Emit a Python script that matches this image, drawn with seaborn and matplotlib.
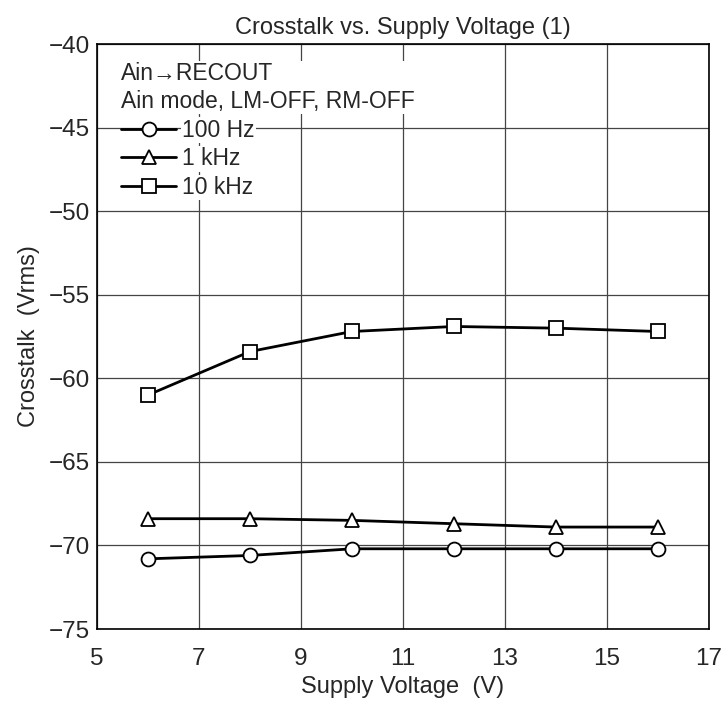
import matplotlib
matplotlib.use('Agg')
import matplotlib.pyplot as plt
import pandas as pd
import seaborn as sns

voltage = [6, 8, 10, 12, 14, 16]
xt_100hz = [-70.8, -70.6, -70.2, -70.2, -70.2, -70.2]
xt_1khz = [-68.4, -68.4, -68.5, -68.7, -68.9, -68.9]
xt_10khz = [-61.0, -58.4, -57.2, -56.9, -57.0, -57.2]
series = ['100 Hz', '1 kHz', '10 kHz']

df = pd.DataFrame({
    'V': voltage * 3,
    'xt': xt_100hz + xt_1khz + xt_10khz,
    'freq': [s for s in series for _ in voltage],
})

sns.set_style('white')
plt.rcParams['font.family'] = ['Liberation Sans', 'DejaVu Sans']

fig = plt.figure(figsize=(7.27, 7.04), dpi=100)
ax = fig.add_axes([0.1334, 0.1065, 0.8418, 0.831])

sns.lineplot(data=df, x='V', y='xt', hue='freq', style='freq',
             palette=['black'] * 3, markers=['o', '^', 's'], dashes=False,
             markersize=10, markerfacecolor='white', markeredgecolor='black',
             markeredgewidth=1.3, linewidth=2, ax=ax, legend=True)

ax.set_xlim(5, 17)
ax.set_ylim(-75, -40)
ax.set_xticks(range(5, 18, 2))
ax.set_yticks(range(-75, -39, 5))
ax.grid(True, color='#444444', linewidth=0.9)
for s in ax.spines.values():
    s.set_color('black')
    s.set_linewidth(1.2)
ax.tick_params(labelsize=17.5, length=0, pad=5)
ax.tick_params(axis='x', pad=14)
ax.set_xlabel('Supply Voltage  (V)', fontsize=17, labelpad=4)
ax.set_ylabel('Crosstalk  (Vrms)', fontsize=17, labelpad=6)
ax.set_title('Crosstalk vs. Supply Voltage (1)', fontsize=17, pad=7)

handles, labels = ax.get_legend_handles_labels()
leg = ax.legend(handles, labels, title='Ain\u2192RECOUT\nAin mode, LM-OFF, RM-OFF',
                loc='upper left', bbox_to_anchor=(0.01, 1.0), frameon=False,
                fontsize=16.5, title_fontsize=16.5, handlelength=2.4,
                handletextpad=0.25, labelspacing=0.25, borderpad=0.3)
leg._legend_box.align = 'left'
leg.get_title().set_linespacing(1.25)
leg.get_title().set_bbox(dict(facecolor='white', edgecolor='none', pad=1))
for t in leg.get_texts():
    t.set_bbox(dict(facecolor='white', edgecolor='none', pad=1))
for h in leg.legend_handles:
    h.set_markerfacecolor('white')
    h.set_markeredgecolor('black')

fig.savefig('out.png', dpi=100)
